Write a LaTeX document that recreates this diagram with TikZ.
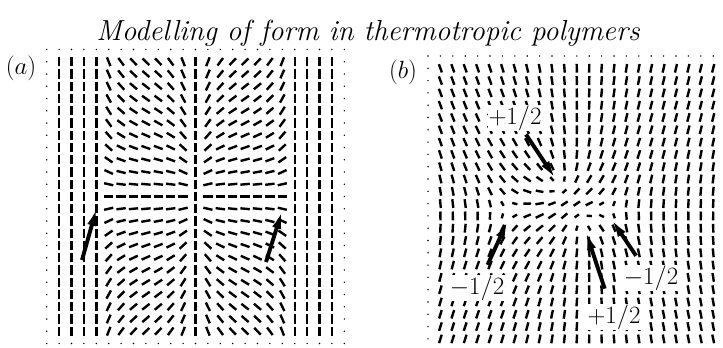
\documentclass[tikz,border=0pt]{standalone}
\usepackage{tikz}
\usetikzlibrary{arrows.meta, positioning}

\begin{document}
\begin{tikzpicture}[
    x=1pt, y=1pt,
    bar/.style={line width=2.4pt},
    defarrow/.style={-{Latex[length=21pt, width=9pt]}, line width=3.9pt},
    charge/.style={fill=white, inner sep=0.5pt, font=\fontsize{23}{26}\selectfont},
    panel/.style={font=\fontsize{26}{30}\selectfont}
]
\useasboundingbox (0,0) rectangle (723,-348);

\node[anchor=base, font=\fontsize{29}{34}\selectfont\itshape] (title) at (368,-40.6) {Modelling of form in thermotropic polymers};

% panel (a)
\node[panel] (lblA) at (21,-68) {$(a)$};
\foreach \i in {0,...,24}{
  \foreach \j in {0,...,24}{
    \pgfmathsetmacro{\px}{46.7+12.4*\i}
    \pgfmathsetmacro{\py}{-49.5-12.25*\j}
    \pgfmathtruncatemacro{\edge}{(\i==0)||(\i==24)||(\j==0)||(\j==24)}
    \ifnum\edge=1
      \fill (\px,\py) circle (0.8);
    \else
      \def\ang{90}
      \ifnum\i>4 \ifnum\i<12
        \pgfmathsetmacro{\ang}{-atan(1.05*(12-\j)/12/sin(22.5*(\i-4)))}
      \fi\fi
      \ifnum\i>12 \ifnum\i<20
        \pgfmathsetmacro{\ang}{atan(1.05*(12-\j)/12/sin(22.5*(\i-12)))}
      \fi\fi
      \draw[bar] (\px,\py) ++(\ang:-4.7) -- ++(\ang:9.4);
    \fi
  }
}
\coordinate (tailAL) at (82,-260);
\coordinate (tipAL) at (97.5,-205);
\coordinate (tailAR) at (266,-262);
\coordinate (tipAR) at (283,-208);
\draw[defarrow] (tailAL) -- (tipAL);
\draw[defarrow] (tailAR) -- (tipAR);

% panel (b)
\node[panel] (lblB) at (403,-72) {$(b)$};
\foreach \i in {0,...,23}{
  \foreach \j in {0,...,23}{
    \pgfmathsetmacro{\px}{428+12.4*\i}
    \pgfmathsetmacro{\py}{-56-12.3*\j}
    \pgfmathtruncatemacro{\edge}{(\i==0)||(\j==0)}
    \ifnum\edge=1
      \fill (\px,\py) circle (0.8);
    \else
      \pgfmathsetmacro{\ang}{90+0.5*atan2(\py+185,\px-558)+0.5*atan2(\py+222,\px-583)-0.5*atan2(\py+210,\px-508)-0.5*atan2(\py+210,\px-608)}
      \pgfmathsetmacro{\dx}{(\px-568)/100}
      \pgfmathsetmacro{\dy}{(\py+208)/100}
      \pgfmathsetmacro{\rr}{\dx*\dx+\dy*\dy}
      \pgfmathsetmacro{\phic}{atan2(\dy,\dx)}
      \pgfmathsetmacro{\ang}{\ang-14*sin(2*\phic)*\rr/(\rr+0.16)}
      \pgfmathsetmacro{\rmin}{min(veclen((\px-558)/10,(\py+185)/10),veclen((\px-583)/10,(\py+222)/10),veclen((\px-508)/10,(\py+210)/10),veclen((\px-608)/10,(\py+210)/10))}
      \pgfmathsetmacro{\len}{8.8*(1-0.55*exp(-min(\rmin*\rmin/2.5,9)))}
      \draw[bar] (\px,\py) ++(\ang:-\len/2) -- ++(\ang:\len);
    \fi
  }
}
\node[charge] (ptop) at (515,-118) {$+1/2$};
\node[charge] (mleft) at (477,-288) {$-1/2$};
\node[charge] (mright) at (651,-278) {$-1/2$};
\node[charge] (pbot) at (614,-317) {$+1/2$};
\coordinate (tipPT) at (557,-181);
\coordinate (tipML) at (509,-218);
\coordinate (tipMR) at (610,-217);
\coordinate (tipPB) at (585,-229);
\draw[defarrow, shorten <=4pt] (ptop) -- (tipPT);
\draw[defarrow, shorten <=11pt] (mleft) -- (tipML);
\draw[defarrow, shorten <=11pt] (mright) -- (tipMR);
\draw[defarrow, shorten <=16pt] (pbot) -- (tipPB);
\end{tikzpicture}
\end{document}
